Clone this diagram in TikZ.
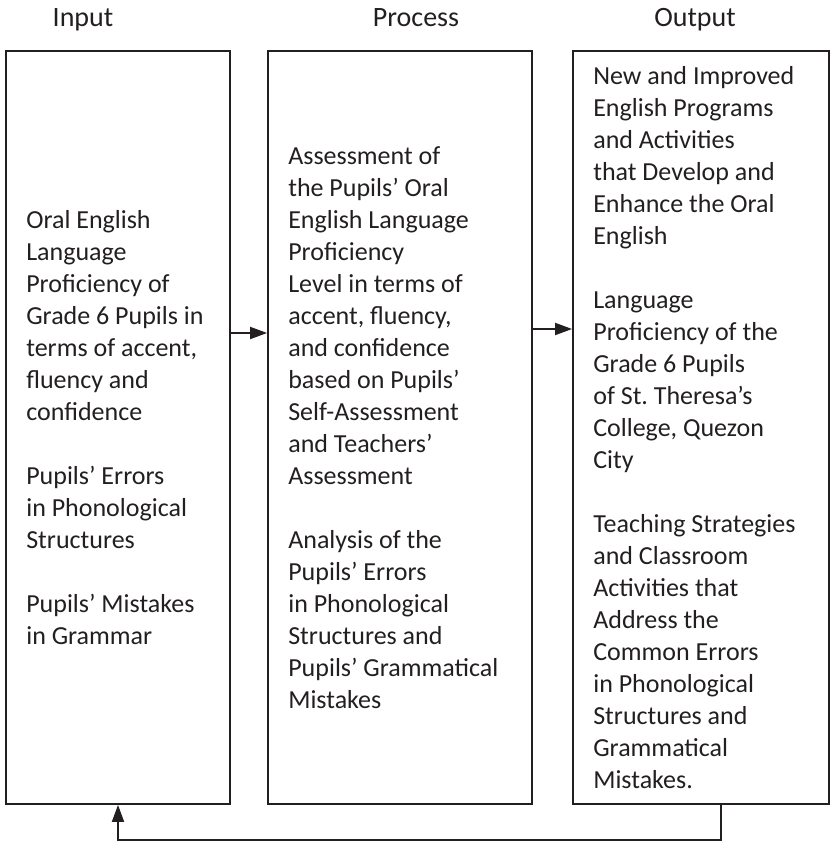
\documentclass[tikz,border=0pt]{standalone}
\usepackage{fontspec}
\setmainfont{Carlito}
\usepackage{tikz}
\usetikzlibrary{arrows.meta,positioning}
\definecolor{inktext}{HTML}{231F20}
\definecolor{inkline}{HTML}{231F20}
\tikzset{
  stagebox/.style={draw=inkline,line width=1.8pt,inner sep=0pt,minimum height=753pt},
  stagetext/.style={inner sep=0pt,align=left,text=inktext,font=\fontsize{26}{32}\selectfont},
  stagetitle/.style={inner sep=0pt,anchor=base,text=inktext,font=\fontsize{28}{34}\selectfont},
  arrow/.style={-{Triangle[length=17pt,width=12pt]},line width=1.8pt,inkline}
}
\begin{document}
\begin{tikzpicture}[x=1pt,y=-1pt]
\useasboundingbox (0,0) rectangle (830,842);

% titles
\node[stagetitle] (inputtitle) at (83,27) {Input};
\node[stagetitle] (processtitle) at (416,27) {Process};
\node[stagetitle] (outputtitle) at (695,27) {Output};

% boxes
\node[stagebox,minimum width=224pt] (input) at (118,427.5) {};
\node[stagebox,minimum width=264pt] (process) at (400,427.5) {};
\node[stagebox,minimum width=256pt] (output) at (701,427.5) {};

% box contents
\node[stagetext,right=21pt of input.west,anchor=west] (inputtext) {Oral English\\Language\\Proficiency of\\Grade 6 Pupils in\\terms of accent,\\fluency and\\confidence\\[32pt]
  Pupils' Errors\\in Phonological\\Structures\\[32pt]
  Pupils' Mistakes\\in Grammar};
\node[stagetext,right=21pt of process.west,anchor=west] (processtext) {Assessment of\\the Pupils' Oral\\English Language\\Proficiency\\Level in terms of\\accent, fluency,\\and confidence\\based on Pupils'\\Self-Assessment\\and Teachers'\\Assessment\\[32pt]
  Analysis of the\\Pupils' Errors\\in Phonological\\Structures and\\Pupils' Grammatical\\Mistakes};
\node[stagetext,right=21pt of output.west,anchor=west] (outputtext) {New and Improved\\English Programs\\and Activities\\that Develop and\\Enhance the Oral\\English\\[32pt]
  Language\\Proficiency of the\\Grade 6 Pupils\\of St.\ Theresa's\\College, Quezon\\City\\[32pt]
  Teaching Strategies\\and Classroom\\Activities that\\Address the\\Common Errors\\in Phonological\\Structures and\\Grammatical\\Mistakes.};

% flow
\draw[arrow] ([yshift=94.5pt]input.east) -- ([yshift=94.5pt]process.west);
\draw[arrow] ([yshift=98.5pt]process.east) -- ([yshift=98.5pt]output.west);
\draw[arrow] ([xshift=20pt]output.south) -- ++(0,35) -| (input.south);
\end{tikzpicture}
\end{document}
